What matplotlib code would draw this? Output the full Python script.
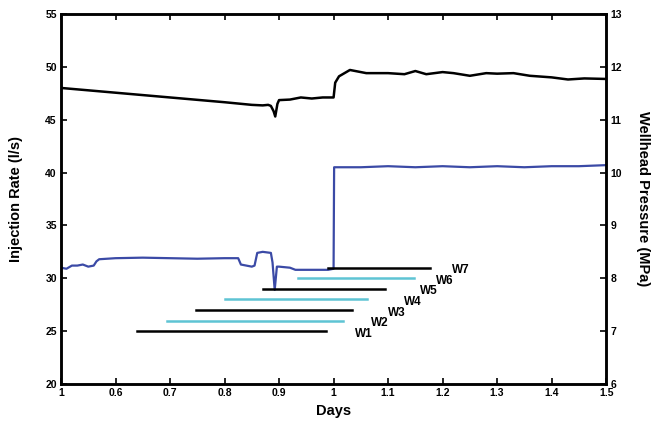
import numpy as np
import matplotlib.pyplot as plt

plt.rcParams['font.family'] = ['Liberation Sans', 'DejaVu Sans']
plt.rcParams['font.weight'] = 'bold'

# injection rate (l/s), left axis
rate_days = [0.5, 0.51, 0.52, 0.53, 0.54, 0.55, 0.56, 0.565, 0.57, 0.6, 0.65, 0.7, 0.75,
             0.8, 0.825, 0.83, 0.84, 0.85, 0.855, 0.86, 0.87, 0.885, 0.888, 0.892,
             0.896, 0.9, 0.92, 0.93, 0.95, 0.97, 0.99, 1.0, 1.001, 1.05, 1.1,
             1.15, 1.2, 1.25, 1.3, 1.35, 1.4, 1.45, 1.5]
rate_vals = [31.0, 30.9, 31.2, 31.2, 31.3, 31.1, 31.2, 31.6, 31.8, 31.9, 31.95, 31.9, 31.85,
             31.9, 31.9, 31.3, 31.2, 31.1, 31.2, 32.4, 32.5, 32.4, 31.5, 28.9,
             31.1, 31.1, 31.0, 30.8, 30.8, 30.8, 30.8, 30.9, 40.5, 40.5, 40.6,
             40.5, 40.6, 40.5, 40.6, 40.5, 40.6, 40.6, 40.7]

# wellhead pressure (MPa), right axis
pres_days = [0.5, 0.6, 0.7, 0.8, 0.85, 0.87, 0.88, 0.885, 0.89, 0.893, 0.897, 0.9,
             0.92, 0.94, 0.96, 0.98, 1.0, 1.003, 1.01, 1.02, 1.03, 1.04, 1.06, 1.08,
             1.1, 1.13, 1.15, 1.17, 1.2, 1.22, 1.25, 1.28, 1.3, 1.33, 1.36, 1.4,
             1.43, 1.46, 1.5]
pres_vals = [11.60, 11.51, 11.42, 11.33, 11.28, 11.27, 11.28, 11.26, 11.16, 11.06, 11.30, 11.37,
             11.38, 11.42, 11.40, 11.42, 11.42, 11.70, 11.82, 11.88, 11.94, 11.92, 11.88, 11.88,
             11.88, 11.86, 11.92, 11.86, 11.90, 11.88, 11.83, 11.88, 11.87, 11.88, 11.83, 11.80,
             11.76, 11.78, 11.77]

# well windows
well_names = ['W1', 'W2', 'W3', 'W4', 'W5', 'W6', 'W7']
well_start = [0.64, 0.695, 0.748, 0.80, 0.871, 0.934, 0.99]
well_end = [0.986, 1.017, 1.033, 1.062, 1.095, 1.147, 1.176]
well_level = [25, 26, 27, 28, 29, 30, 31]
well_colors = ['black', '#5ec4d4', 'black', '#5ec4d4', 'black', '#5ec4d4', 'black']

fig = plt.figure(figsize=(6.56, 4.22), dpi=100)
ax = fig.add_axes([0.093, 0.09, 0.831, 0.877])
ax2 = ax.twinx()

ax.plot(rate_days, rate_vals, color='#3b4aa6', lw=1.6)
ax2.plot(pres_days, pres_vals, color='black', lw=1.8)

for i in range(len(well_names)):
    ax.plot([well_start[i], well_end[i]], [well_level[i], well_level[i]],
            color=well_colors[i], lw=1.8)
    ax.text(1.040 + 0.0295 * i, well_level[i] - 0.25, well_names[i],
            fontsize=8.5, fontweight='bold', va='center', ha='left')

ax.set_xlim(0.5, 1.5)
ax.set_ylim(20, 55)
ax2.set_ylim(6, 13)
ax.set_xticks(np.arange(0.5, 1.51, 0.1))
ax.set_xticklabels(['1', '0.6', '0.7', '0.8', '0.9', '1', '1.1', '1.2', '1.3', '1.4', '1.5'])
ax.set_yticks(np.arange(20, 56, 5))
ax2.set_yticks(np.arange(6, 14, 1))

ax.tick_params(direction='in', top=True, labelsize=7.5, length=4, width=1.2, pad=3)
ax2.tick_params(direction='in', labelsize=7.5, length=4, width=1.2, pad=3)
for a in (ax, ax2):
    for s in a.spines.values():
        s.set_linewidth(1.8)

ax.set_xlabel('Days', fontsize=10.5, fontweight='bold', labelpad=4)
ax.set_ylabel('Injection Rate (l/s)', fontsize=10.5, fontweight='bold', labelpad=16)
ax2.set_ylabel('Wellhead Pressure (MPa)', fontsize=10.5, fontweight='bold',
               rotation=270, labelpad=20)

fig.savefig('out.png', dpi=100)
